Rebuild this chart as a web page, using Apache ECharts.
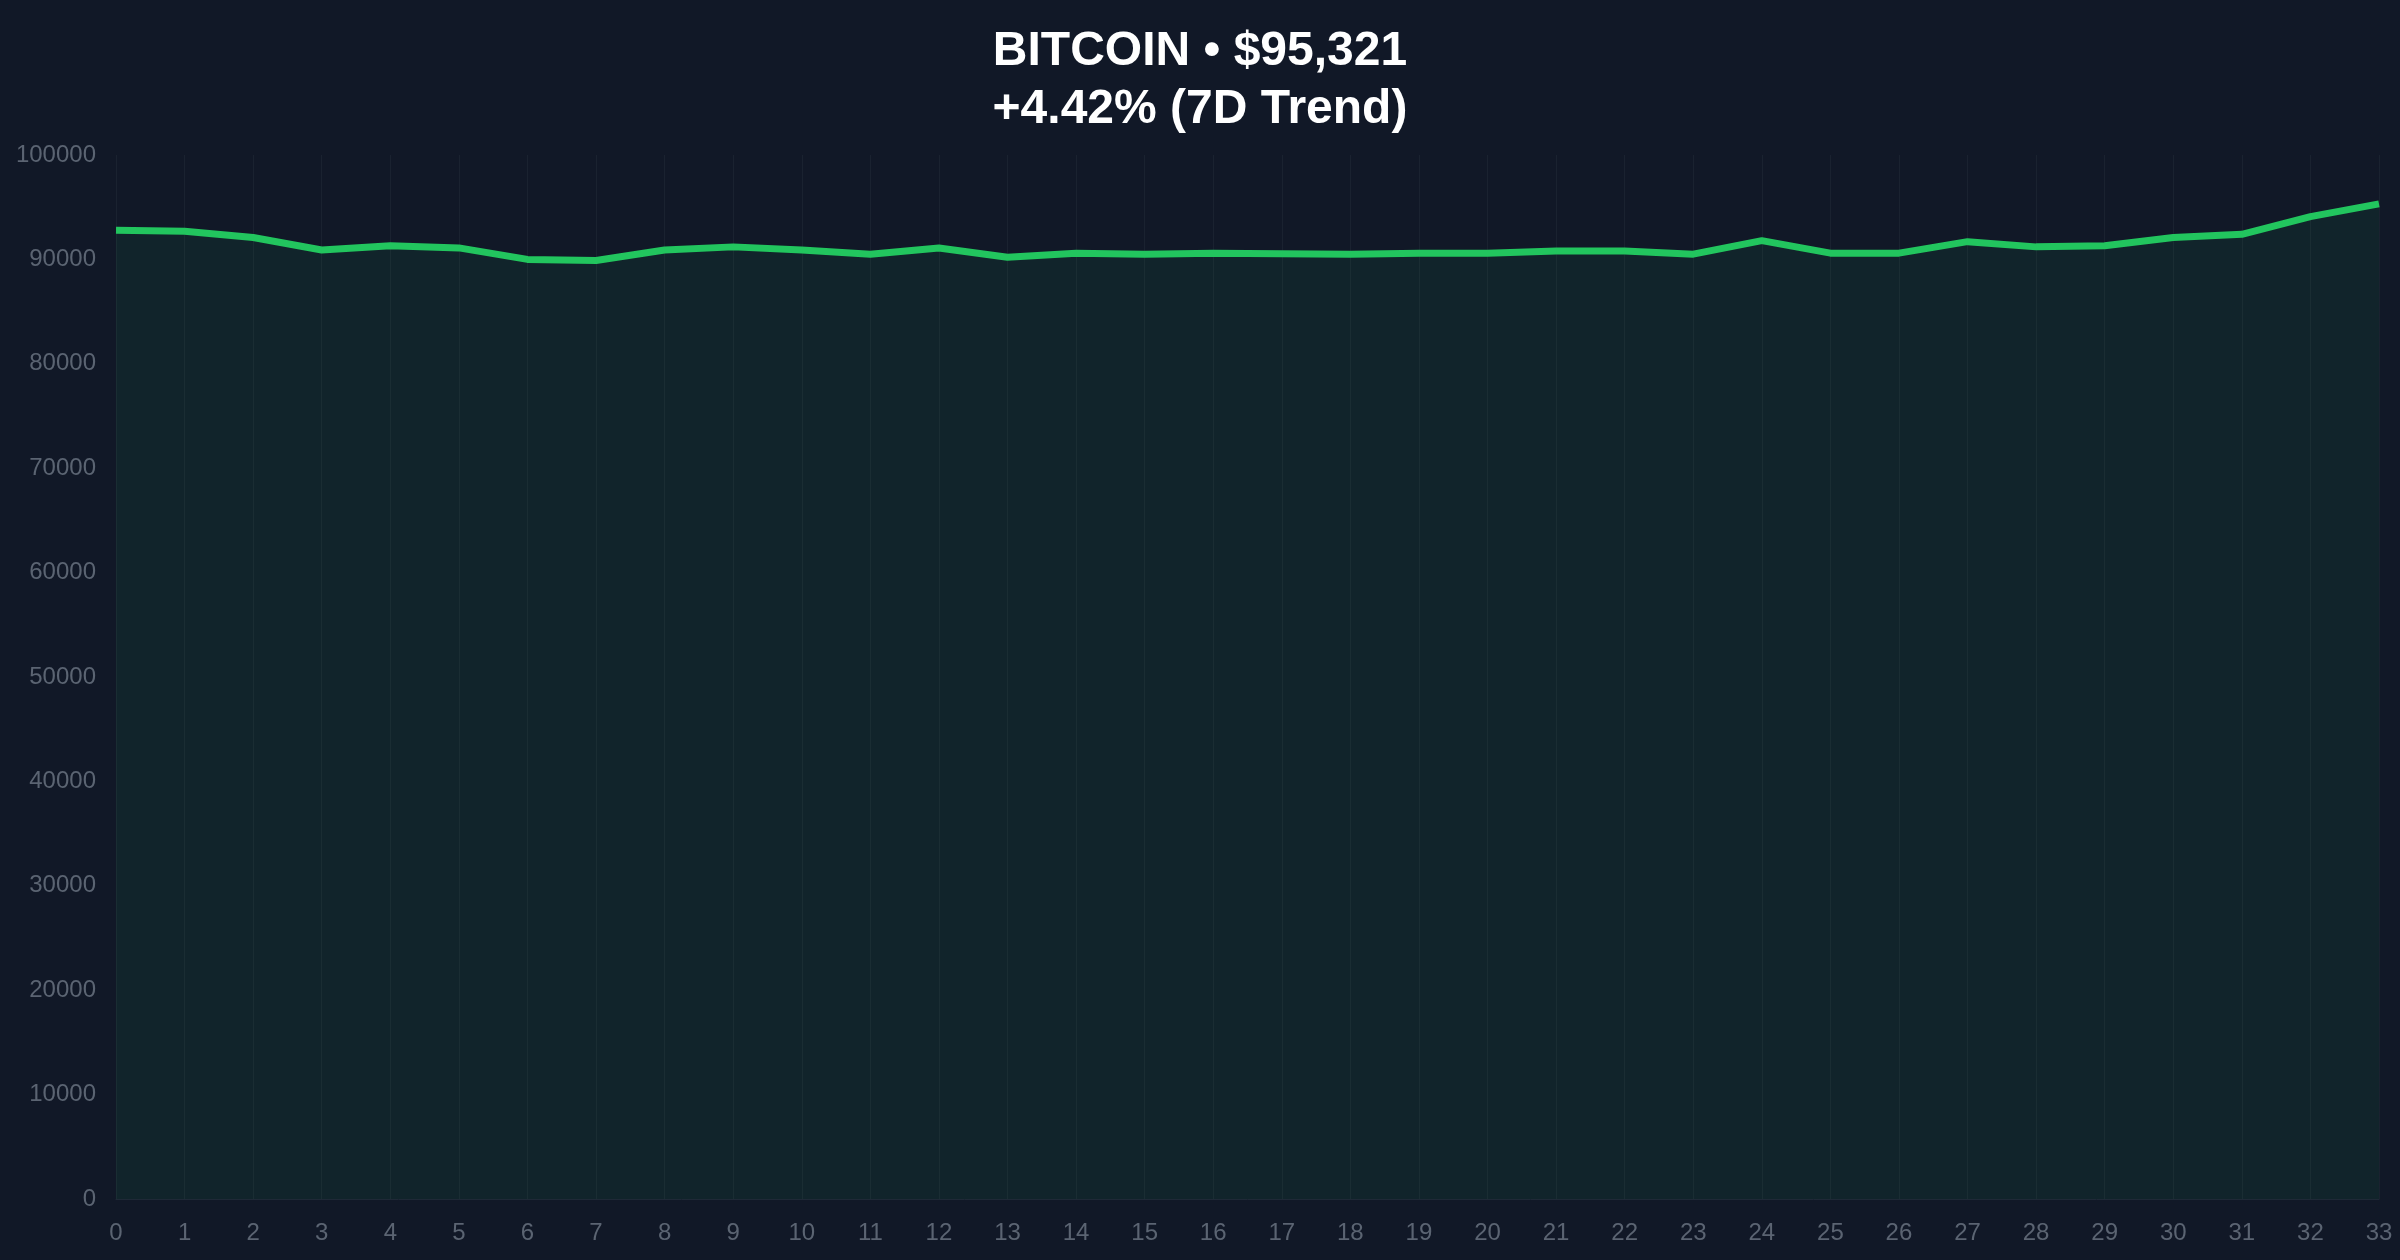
<!DOCTYPE html>
<html>
<head>
<meta charset="utf-8">
<script src="https://cdn.jsdelivr.net/npm/echarts@6/dist/echarts.min.js"></script>
<style>
  html, body { margin: 0; padding: 0; background: #111827; }
  #chart { width: 2400px; height: 1260px; }
</style>
</head>
<body>
<div id="chart"></div>
<script>
// chart data
var days = [];
for (let i = 0; i <= 33; i++) days.push(String(i));
var prices = [
    92800, 92700, 92100, 90900, 91300, 91100, 90000, 89900, 90900, 91200,
    90900, 90500, 91100, 90200, 90600, 90500, 90600, 90550, 90500, 90600,
    90600, 90800, 90800, 90500, 91800, 90600, 90600, 91700, 91200, 91300,
    92100, 92400, 94100, 95321
];
var titleText = 'BITCOIN • $95,321\n+4.42% (7D Trend)';

var chart = echarts.init(document.getElementById('chart'));
var option = {
    backgroundColor: '#111827',
    animation: false,
    title: {
        text: titleText,
        left: 'center',
        top: 18,
        textStyle: {
            color: '#ffffff',
            fontSize: 48,
            fontWeight: 'bold',
            fontFamily: 'Liberation Sans',
            lineHeight: 58
        }
    },
    grid: { left: 116, right: 21, top: 155, bottom: 61 },
    xAxis: {
        type: 'category',
        data: days,
        boundaryGap: false,
        axisLine: { lineStyle: { color: '#1f2937' } },
        axisTick: { show: false },
        axisLabel: { color: '#5b6472', fontSize: 24, margin: 22, fontFamily: 'Liberation Sans' },
        splitLine: { show: true, lineStyle: { color: '#1a2230' } }
    },
    yAxis: {
        type: 'value',
        min: 0,
        max: 100000,
        interval: 10000,
        axisLine: { show: false },
        axisTick: { show: false },
        axisLabel: {
            color: '#5b6472', fontSize: 24, margin: 20, fontFamily: 'Liberation Sans',
            formatter: function (v) { return String(v); }
        },
        splitLine: { show: false }
    },
    series: [
        {
            type: 'line',
            data: prices,
            showSymbol: false,
            lineStyle: { color: '#22c55e', width: 7 },
            areaStyle: { color: 'rgba(34,197,94,0.1)' }
        }
    ]
};
chart.setOption(option);
</script>
</body>
</html>
